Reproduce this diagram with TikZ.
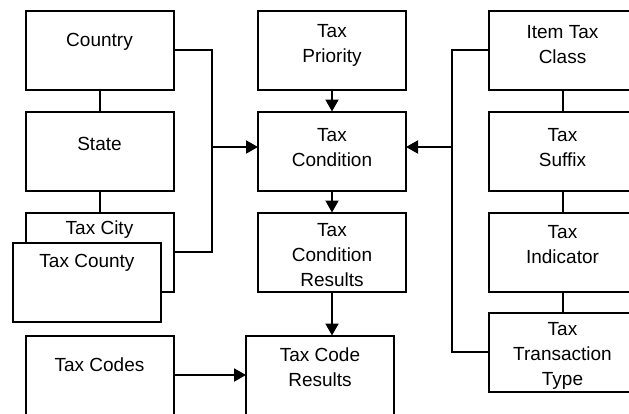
\documentclass[tikz,border=0pt]{standalone}
\usepackage{fontspec}
\setmainfont{Liberation Sans}
\usetikzlibrary{arrows.meta,positioning}

\tikzset{
  box/.style={draw, fill=white, line width=2pt, minimum width=148pt, minimum height=79pt, inner sep=0pt, outer sep=0pt},
  lbl/.style={anchor=north, align=center, inner sep=0pt, font=\fontsize{19}{25}\selectfont},
  link/.style={line width=2pt},
  arr/.style={line width=2pt, -{Triangle[length=12pt,width=13pt]}},
}

\begin{document}
\begin{tikzpicture}[x=1pt,y=-1pt]
  \useasboundingbox (0,0) rectangle (629,413);
  \clip (0,0) rectangle (629,413);

  % places
  \node[box, label={[lbl,yshift=-23pt]north:Country}] (country) at (99.5,50) {};
  \node[box, label={[lbl,yshift=-26pt]north:State}] (state) at (99.5,151) {};
  \node[box, label={[lbl,yshift=-8pt]north:Tax City}] (city) at (99.5,252) {};
  \node[box, label={[lbl,yshift=-11pt]north:Tax County}] (county) at (87,282.5) {};
  \node[box, label={[lbl,yshift=-22pt]north:Tax Codes}] (codes) at (99.5,375) {};

  % conditions
  \node[box, label={[lbl,yshift=-14pt]north:Tax\\Priority}] (priority) at (332,50) {};
  \node[box, label={[lbl,yshift=-17pt]north:Tax\\Condition}] (condition) at (332,151) {};
  \node[box, label={[lbl,yshift=-11pt]north:Tax\\Condition\\Results}] (condres) at (332,252) {};
  \node[box, label={[lbl,yshift=-12pt]north:Tax Code\\Results}] (coderes) at (320,375) {};

  % item side
  \node[box, label={[lbl,yshift=-15pt]north:Item Tax\\Class}] (itemclass) at (562.5,50) {};
  \node[box, label={[lbl,yshift=-17pt]north:Tax\\Suffix}] (suffix) at (562.5,151) {};
  \node[box, label={[lbl,yshift=-13pt]north:Tax\\Indicator}] (indicator) at (562.5,252) {};
  \node[box, label={[lbl,yshift=-10pt]north:Tax\\Transaction\\Type}] (transtype) at (562.5,352) {};

  \coordinate (lbus) at (212,147);
  \coordinate (rbus) at (452,147);

  \draw[link] (country) -- (state);
  \draw[link] (state) -- (city);
  \draw[link] (country) -| (lbus) |- (city);
  \draw[arr] (lbus) -- (condition.west |- lbus);

  \draw[link] (itemclass) -- (suffix);
  \draw[link] (suffix) -- (indicator);
  \draw[link] (indicator) -- (transtype);
  \draw[link] (itemclass) -| (rbus) |- (transtype);
  \draw[arr] (rbus) -- (condition.east |- rbus);

  \draw[arr] (priority) -- (condition);
  \draw[arr] (condition) -- (condres);
  \draw[arr] (condres.south) -- (condres.south |- coderes.north);
  \draw[arr] (codes) -- (coderes);

\end{tikzpicture}
\end{document}
